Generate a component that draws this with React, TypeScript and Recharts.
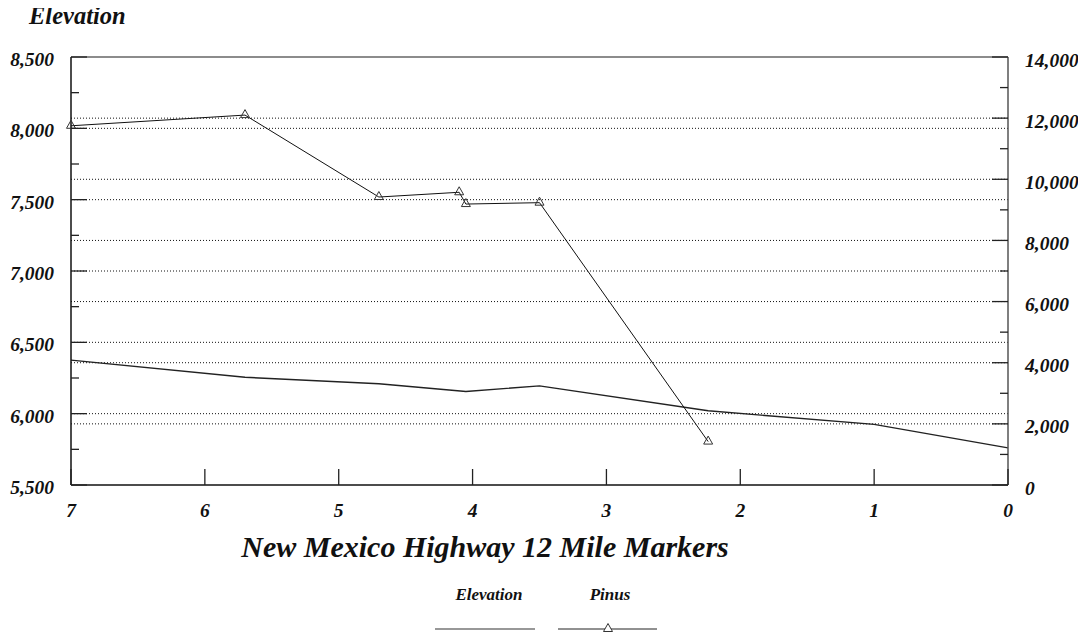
import React from 'react';
import { LineChart, Line, XAxis, YAxis, ReferenceLine, Legend } from 'recharts';

const elevMiles = [7, 5.7, 4.7, 4.05, 3.5, 2.24, 1, 0];
const elevValues = [6375, 6255, 6210, 6155, 6195, 6020, 5925, 5760];
const pinusMiles = [7, 5.7, 4.7, 4.1, 4.05, 3.5, 2.24];
const pinusValues = [11750, 12100, 9420, 9575, 9190, 9235, 1420];

const xTicks = [0, 1, 2, 3, 4, 5, 6, 7];
const leftTicks = [5500, 5750, 6000, 6250, 6500, 6750, 7000, 7250, 7500, 7750, 8000, 8250, 8500];
const rightTicks = [0, 1000, 2000, 3000, 4000, 5000, 6000, 7000, 8000, 9000, 10000, 11000, 12000, 13000, 14000];
const leftGrid = [6000, 6500, 7000, 7500, 8000];
const rightGrid = [2000, 4000, 6000, 8000, 10000, 12000];

const elevData = elevMiles.map((m, i) => ({ mile: m, elev: elevValues[i] }));
const pinusData = pinusMiles.map((m, i) => ({ mile: m, pinus: pinusValues[i] }));

const FONT = '"Liberation Serif", "Times New Roman", serif';
const labelStyle = { fontFamily: FONT, fontWeight: 700, fontStyle: 'italic', fill: '#111' } as const;
const TM = 4;
const TICK_FS = 19.5;

const fmt = (v: number) => v.toLocaleString('en-US');

const LeftTick = (props: any) => {
  const { x, y, payload } = props;
  const ax = x + TM;
  const major = payload.value % 500 === 0;
  return (
    <g>
      <line x1={ax} x2={ax + (major ? 16 : 8)} y1={y} y2={y} stroke="#222" strokeWidth={1.3} />
      {major && (
        <text x={ax - 17} y={y + 9} textAnchor="end" fontSize={TICK_FS} style={labelStyle}>
          {fmt(payload.value)}
        </text>
      )}
    </g>
  );
};

const RightTick = (props: any) => {
  const { x, y, payload } = props;
  const ax = x - TM;
  const major = payload.value % 2000 === 0;
  return (
    <g>
      <line x1={ax} x2={ax - (major ? 16 : 8)} y1={y} y2={y} stroke="#222" strokeWidth={1.3} />
      {major && (
        <text x={ax + 17} y={y + 9.5} textAnchor="start" fontSize={TICK_FS} style={labelStyle}>
          {fmt(payload.value)}
        </text>
      )}
    </g>
  );
};

const BottomTick = (props: any) => {
  const { x, y, payload } = props;
  const ay = y - TM;
  return (
    <g>
      <line x1={x} x2={x} y1={ay} y2={ay - 16} stroke="#222" strokeWidth={1.3} />
      <text x={x} y={ay + 32} textAnchor="middle" fontSize={TICK_FS} style={labelStyle}>
        {payload.value}
      </text>
    </g>
  );
};

const Triangle = (props: any) => {
  const { cx, cy, index } = props;
  if (cx == null || cy == null) return <g key={index} />;
  return (
    <path
      key={index}
      d={`M${cx},${cy - 5.5} L${cx + 4.5},${cy + 2.5} L${cx - 4.5},${cy + 2.5} Z`}
      fill="none"
      stroke="#333"
      strokeWidth={1}
    />
  );
};

const LegendContent = () => (
  <svg width={1086} height={57} style={{ display: 'block', overflow: 'visible' }}>
    <text x={489} y={20} textAnchor="middle" fontSize={17} style={labelStyle}>Elevation</text>
    <text x={610} y={20} textAnchor="middle" fontSize={17} style={labelStyle}>Pinus</text>
    <line x1={435} x2={535} y1={49} y2={49} stroke="#333" strokeWidth={1.2} />
    <line x1={558} x2={657} y1={49} y2={49} stroke="#222" strokeWidth={1} />
    <path d="M608,43.5 L612.5,51.5 L603.5,51.5 Z" fill="white" stroke="#333" />
  </svg>
);

export default function App() {
  return (
    <div style={{ margin: '-8px 0 0 -8px', width: 1086, height: 637 }}>
      <LineChart
        width={1086}
        height={637}
        margin={{ top: 57, right: 0, bottom: 112, left: 0 }}
        style={{ fontFamily: FONT }}
      >
        <XAxis
          dataKey="mile"
          type="number"
          domain={[0, 7]}
          reversed
          ticks={xTicks}
          interval={0}
          tickSize={0}
          tickMargin={TM}
          tick={<BottomTick />}
          tickLine={false}
          axisLine={{ stroke: '#111', strokeWidth: 1.5 }}
          height={40}
          allowDuplicatedCategory={false}
          label={(p: any) => {
            const vb = p.viewBox || { x: 71, y: 485, width: 937 };
            return (
              <text x={485} y={vb.y + 72} textAnchor="middle" fontSize={30} style={labelStyle}>
                New Mexico Highway 12 Mile Markers
              </text>
            );
          }}
        />
        <YAxis
          yAxisId="left"
          orientation="left"
          domain={[5500, 8500]}
          ticks={leftTicks}
          interval={0}
          width={71}
          tickSize={0}
          tickMargin={TM}
          tickLine={false}
          tick={<LeftTick />}
          axisLine={{ stroke: '#111', strokeWidth: 1.5 }}
          label={() => (
            <text x={29} y={24} textAnchor="start" fontSize={24.5} style={labelStyle}>
              Elevation
            </text>
          )}
        />
        <YAxis
          yAxisId="right"
          orientation="right"
          domain={[0, 14000]}
          ticks={rightTicks}
          interval={0}
          width={78}
          tickSize={0}
          tickMargin={TM}
          tickLine={false}
          tick={<RightTick />}
          axisLine={{ stroke: '#555', strokeWidth: 1.5 }}
        />
        {leftGrid.map((v) => (
          <ReferenceLine key={'l' + v} yAxisId="left" y={v} stroke="#111" strokeDasharray="1 2" strokeWidth={1} />
        ))}
        {rightGrid.map((v) => (
          <ReferenceLine key={'r' + v} yAxisId="right" y={v} stroke="#111" strokeDasharray="1 2" strokeWidth={1} />
        ))}
        <ReferenceLine yAxisId="left" y={8500} stroke="#666" strokeWidth={1.5} />
        <Line
          data={elevData}
          yAxisId="left"
          dataKey="elev"
          name="Elevation"
          type="linear"
          stroke="#222"
          strokeWidth={1.4}
          dot={false}
          isAnimationActive={false}
        />
        <Line
          data={pinusData}
          yAxisId="right"
          dataKey="pinus"
          name="Pinus"
          type="linear"
          stroke="#111"
          strokeWidth={1}
          dot={<Triangle />}
          isAnimationActive={false}
        />
        <Legend
          layout="horizontal"
          verticalAlign="middle"
          align="center"
          content={<LegendContent />}
          wrapperStyle={{ position: 'absolute', top: 580, left: 0, width: 1086, height: 57 }}
        />
      </LineChart>
    </div>
  );
}
